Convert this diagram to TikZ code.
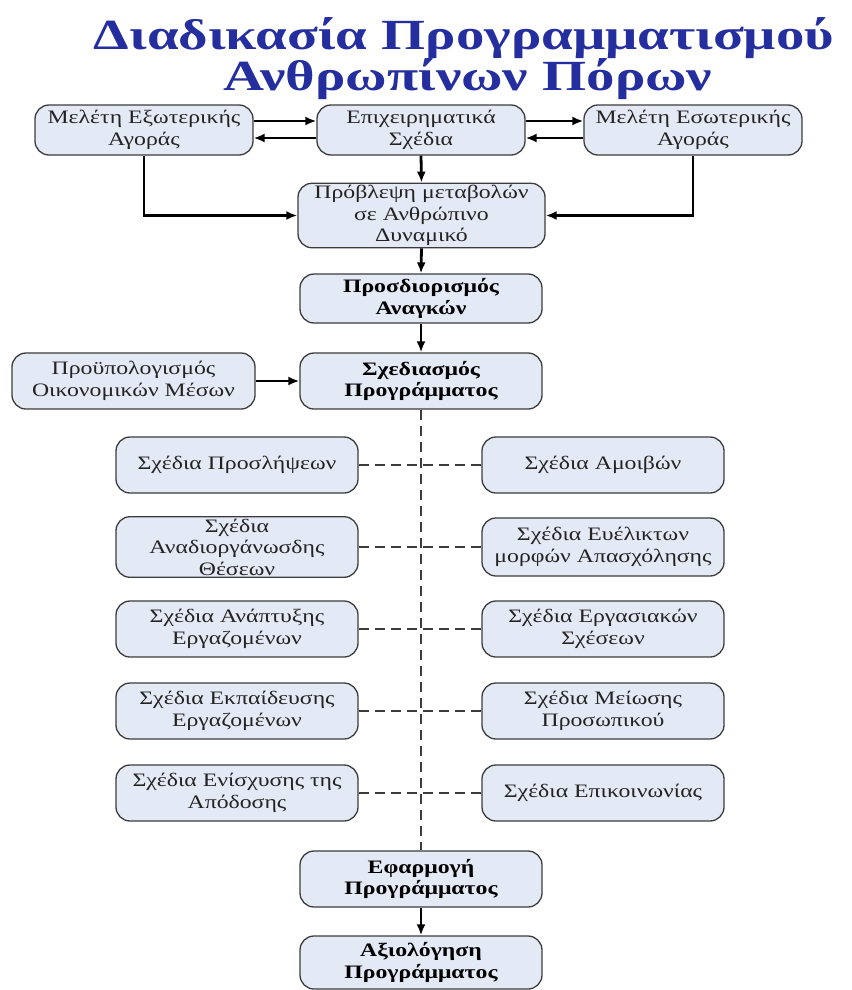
\documentclass[tikz,border=0pt]{standalone}
\usepackage{fontspec}
\setmainfont{Liberation Serif}[FakeStretch=1.25]
\newfontfamily\titlefont{Liberation Serif}[FakeStretch=1.32]
\usetikzlibrary{arrows.meta}
\definecolor{boxfill}{RGB}{228,234,245}
\definecolor{boxline}{RGB}{60,60,60}
\definecolor{boxtext}{RGB}{35,35,35}
\definecolor{titleblue}{RGB}{36,46,158}
\tikzset{
  box/.style={draw=boxline, line width=1.3pt, fill=boxfill, rounded corners=14pt,
    align=center, inner sep=2pt, text=boxtext, font=\fontsize{19}{21.5}\selectfont},
  bbox/.style={box, text=black, font=\fontsize{19}{21.5}\selectfont\bfseries},
  arr/.style={line width=2.8pt, -{Latex[length=11pt,width=9pt]}},
  dashline/.style={line width=1.4pt, draw=boxline, dash pattern=on 10pt off 6pt},
  ttl/.style={font=\titlefont\fontsize{43}{43}\selectfont\bfseries, text=titleblue},
}
\begin{document}
\begin{tikzpicture}[x=1pt,y=-1pt]
\useasboundingbox (0,0) rectangle (851,990);
% title
\node[ttl] (t1) at (464,38) {Διαδικασία Προγραμματισμού};
\node[ttl] (t2) at (468,79) {Ανθρωπίνων Πόρων};
% top row
\node[box, minimum width=218pt, minimum height=50pt] (ext) at (144,130) {Μελέτη Εξωτερικής\\Αγοράς};
\node[box, minimum width=208pt, minimum height=50pt] (biz) at (421,130) {Επιχειρηματικά\\Σχέδια};
\node[box, minimum width=218pt, minimum height=50pt] (int) at (693,130) {Μελέτη Εσωτερικής\\Αγοράς};
\node[box, minimum width=247pt, minimum height=55pt] (prob) at (421.5,215.5) {Πρόβλεψη μεταβολών\\σε Ανθρώπινο\\Δυναμικό};
\node[bbox, minimum width=242pt, minimum height=49pt] (need) at (421,298.5) {Προσδιορισμός\\Αναγκών};
\node[bbox, minimum width=242pt, minimum height=56pt] (plan) at (421,381) {Σχεδιασμός\\Προγράμματος};
\node[box, minimum width=243pt, minimum height=56pt] (budget) at (133.5,381) {Προϋπολογισμός\\Οικονομικών Μέσων};
% plan rows
\node[box, minimum width=242pt, minimum height=56pt] (l1) at (237,465) {Σχέδια Προσλήψεων};
\node[box, minimum width=242pt, minimum height=56pt] (r1) at (603,465) {Σχέδια Αμοιβών};
\node[box, minimum width=242pt, minimum height=58pt] (l2) at (237,547) {Σχέδια\\Αναδιοργάνωσδης\\Θέσεων};
\node[box, minimum width=242pt, minimum height=58pt] (r2) at (603,547) {Σχέδια Ευέλικτων\\μορφών Απασχόλησης};
\node[box, minimum width=242pt, minimum height=56pt] (l3) at (237,629) {Σχέδια Ανάπτυξης\\Εργαζομένων};
\node[box, minimum width=242pt, minimum height=56pt] (r3) at (603,629) {Σχέδια Εργασιακών\\Σχέσεων};
\node[box, minimum width=242pt, minimum height=56pt] (l4) at (237,711) {Σχέδια Εκπαίδευσης\\Εργαζομένων};
\node[box, minimum width=242pt, minimum height=56pt] (r4) at (603,711) {Σχέδια Μείωσης\\Προσωπικού};
\node[box, minimum width=242pt, minimum height=56pt] (l5) at (237,793) {Σχέδια Ενίσχυσης της\\Απόδοσης};
\node[box, minimum width=242pt, minimum height=56pt] (r5) at (603,793) {Σχέδια Επικοινωνίας};
\node[bbox, minimum width=242pt, minimum height=56pt] (apply) at (421,879) {Εφαρμογή\\Προγράμματος};
\node[bbox, minimum width=242pt, minimum height=53pt] (eval) at (421,962.5) {Αξιολόγηση\\Προγράμματος};
% connectors
\draw[arr] ([yshift=9pt]ext.east) -- ([yshift=9pt]biz.west);
\draw[arr] ([yshift=-8pt]biz.west) -- ([yshift=-8pt]ext.east);
\draw[arr] ([yshift=9pt]biz.east) -- ([yshift=9pt]int.west);
\draw[arr] ([yshift=-8pt]int.west) -- ([yshift=-8pt]biz.east);
\draw[arr] (biz.south) -- (prob.north);
\draw[arr] (ext.south) |- (prob.west);
\draw[arr] (int.south) |- (prob.east);
\draw[arr] (prob.south) -- (need.north);
\draw[arr] (need.south) -- (plan.north);
\draw[arr] (budget.east) -- (plan.west);
\draw[dashline] (plan.south) -- (apply.north);
\foreach \i in {1,...,5} {\draw[dashline] (l\i.east) -- (r\i.west);}
\draw[arr] (apply.south) -- (eval.north);
\end{tikzpicture}
\end{document}
